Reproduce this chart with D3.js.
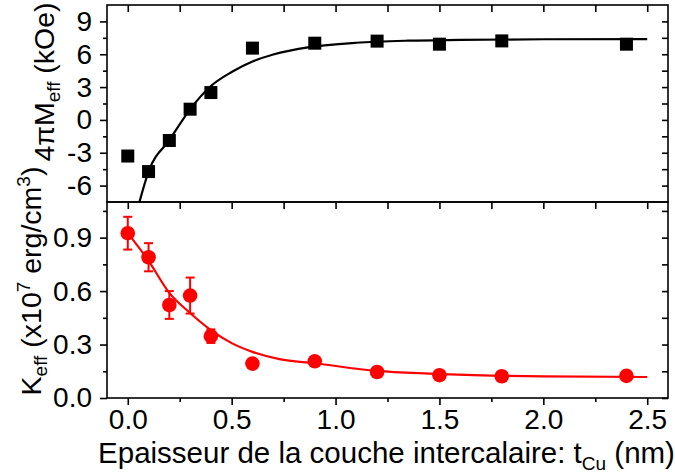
<!DOCTYPE html>
<html><head><meta charset="utf-8">
<script src="https://cdn.jsdelivr.net/npm/d3@7"></script>
<style>
body{margin:0;background:#fff;}
text{font-family:"Liberation Sans",Arial,sans-serif;}
</style></head>
<body><svg id="c" width="675" height="475"></svg>
<script>
// ---- data ----
const thickness = [0, 0.1, 0.2, 0.3, 0.4, 0.6, 0.9, 1.2, 1.5, 1.8, 2.4];
const meff = [-3.3, -4.72, -1.88, 0.98, 2.5, 6.56, 7.01, 7.2, 6.92, 7.22, 6.92];
const meffFitX = [0.056, 0.1, 0.2, 0.3, 0.4, 0.5, 0.6, 0.7, 0.875, 1.1, 1.35, 1.6, 2.0, 2.5];
const meffFitY = [-7.5, -4.72, -1.85, 0.97, 3.1, 4.38, 5.34, 5.98, 6.65, 7.05, 7.24, 7.31, 7.37, 7.39];
const keff = [0.925, 0.79, 0.522, 0.575, 0.347, 0.193, 0.206, 0.146, 0.128, 0.122, 0.124];
const keffErr = [0.092, 0.079, 0.078, 0.101, 0.038, 0, 0, 0, 0, 0, 0];
const keffFitX = [0, 0.1, 0.2, 0.3, 0.4, 0.5, 0.6, 0.73, 0.9, 1.2, 1.45, 1.75, 2.0, 2.5];
const keffFitY = [0.925, 0.77, 0.59, 0.477, 0.381, 0.308, 0.259, 0.218, 0.195, 0.152, 0.137, 0.126, 0.121, 0.118];
const xTicks = [0, 0.5, 1.0, 1.5, 2.0, 2.5];
const xMinor = [0.25, 0.75, 1.25, 1.75, 2.25];
const yTopTicks = [-6, -3, 0, 3, 6, 9];
const yTopMinor = [-4.5, -1.5, 1.5, 4.5, 7.5];
const yBotTicks = [0, 0.3, 0.6, 0.9];
const yBotMinor = [0.15, 0.45, 0.75, 1.05];

// ---- layout ----
const L = 107, R = 668, T = 5, M = 202, B = 398;
const svg = d3.select("#c");
const x = d3.scaleLinear().domain([-0.1, 2.6]).range([L, R]);
const yT = d3.scaleLinear().domain([-7.5, 10.5]).range([M, T]);
const yB = d3.scaleLinear().domain([0, 1.1]).range([B, M]);
const FS = 28, FT = 29.5, FY = 28.5, FSUB = 19;

function axisG(gen, tx, ty, labels) {
  const g = svg.append("g").attr("transform", `translate(${tx},${ty})`).call(gen);
  g.select(".domain").remove();
  g.selectAll(".tick line").attr("stroke", "#000").attr("stroke-width", 1.6);
  if (!labels) g.selectAll(".tick text").remove();
  else g.selectAll(".tick text").attr("font-size", FS).attr("fill", "#000")
        .attr("font-family", '"Liberation Sans",Arial,sans-serif');
  return g;
}
const fmt1 = d3.format(".1f");

// top panel
axisG(d3.axisLeft(yT).tickValues(yTopTicks).tickSize(7).tickPadding(8).tickFormat(d => String(d)), L, 0, true);
axisG(d3.axisLeft(yT).tickValues(yTopMinor).tickSize(4), L, 0, false);
axisG(d3.axisLeft(yT).tickValues(yTopTicks.concat(yTopMinor)).tickSize(6), R, 0, false);
axisG(d3.axisBottom(x).tickValues(xTicks.concat(xMinor)).tickSize(7), 0, T, false);
axisG(d3.axisBottom(x).tickValues(xTicks.concat(xMinor)).tickSize(7), 0, M, false);
// bottom panel
axisG(d3.axisLeft(yB).tickValues(yBotTicks).tickSize(7).tickPadding(8).tickFormat(fmt1), L, 0, true);
axisG(d3.axisLeft(yB).tickValues(yBotMinor).tickSize(4), L, 0, false);
axisG(d3.axisLeft(yB).tickValues(yBotTicks.concat(yBotMinor)).tickSize(6), R, 0, false);
axisG(d3.axisBottom(x).tickValues(xTicks).tickSize(7).tickPadding(4).tickFormat(fmt1), 0, B, true);
axisG(d3.axisBottom(x).tickValues(xMinor).tickSize(4), 0, B, false);

// frames
svg.append("rect").attr("x", L).attr("y", T).attr("width", R - L).attr("height", M - T)
  .attr("fill", "none").attr("stroke", "#000").attr("stroke-width", 1.6);
svg.append("rect").attr("x", L).attr("y", M).attr("width", R - L).attr("height", B - M)
  .attr("fill", "none").attr("stroke", "#000").attr("stroke-width", 1.6);

// top fit + squares
const lineT = d3.line().x((d, i) => x(meffFitX[i])).y(d => yT(d)).curve(d3.curveMonotoneX);
svg.append("path").attr("d", lineT(meffFitY)).attr("fill", "none").attr("stroke", "#000").attr("stroke-width", 2.2);
const S = 13;
svg.append("g").selectAll("rect").data(meff).join("rect")
  .attr("x", (d, i) => x(thickness[i]) - S / 2).attr("y", d => yT(d) - S / 2)
  .attr("width", S).attr("height", S).attr("fill", "#000");

// bottom fit + circles + error bars
const red = "#ff0000";
const lineB = d3.line().x((d, i) => x(keffFitX[i])).y(d => yB(d)).curve(d3.curveMonotoneX);
svg.append("path").attr("d", lineB(keffFitY)).attr("fill", "none").attr("stroke", red).attr("stroke-width", 2.2);
const eb = svg.append("g");
keff.forEach((v, i) => {
  const e = keffErr[i];
  if (!e) return;
  const cx = x(thickness[i]);
  eb.append("line").attr("x1", cx).attr("x2", cx).attr("y1", yB(v - e)).attr("y2", yB(v + e)).attr("stroke", red).attr("stroke-width", 2);
  [v - e, v + e].forEach(w => eb.append("line").attr("x1", cx - 4.5).attr("x2", cx + 4.5)
    .attr("y1", yB(w)).attr("y2", yB(w)).attr("stroke", red).attr("stroke-width", 2));
});
svg.append("g").selectAll("circle").data(keff).join("circle")
  .attr("cx", (d, i) => x(thickness[i])).attr("cy", d => yB(d)).attr("r", 7.3).attr("fill", red);

// axis titles
const xt = svg.append("text").attr("x", (L + R) / 2 - 1).attr("y", 463).attr("text-anchor", "middle").attr("font-size", FT);
xt.append("tspan").text("Epaisseur de la couche intercalaire: t");
xt.append("tspan").attr("font-size", FSUB).attr("dy", 7).text("Cu");
xt.append("tspan").attr("dy", -7).text(" (nm)");

const yt1 = svg.append("text").attr("transform", "translate(54,82) rotate(-90)").attr("text-anchor", "middle").attr("font-size", FY);
yt1.append("tspan").text("4\u03C0M");
yt1.append("tspan").attr("font-size", FSUB).attr("dy", 6).text("eff");
yt1.append("tspan").attr("dy", -6).text(" (kOe)");

const yt2 = svg.append("text").attr("transform", "translate(41,281) rotate(-90)").attr("text-anchor", "middle").attr("font-size", FY);
yt2.append("tspan").text("K");
yt2.append("tspan").attr("font-size", FSUB).attr("dy", 6).text("eff");
yt2.append("tspan").attr("dy", -6).text(" (x10");
yt2.append("tspan").attr("font-size", FSUB).attr("dy", -11).text("7");
yt2.append("tspan").attr("dy", 11).text(" erg/cm");
yt2.append("tspan").attr("font-size", FSUB).attr("dy", -11).text("3");
yt2.append("tspan").attr("dy", 11).text(")");
</script></body></html>
